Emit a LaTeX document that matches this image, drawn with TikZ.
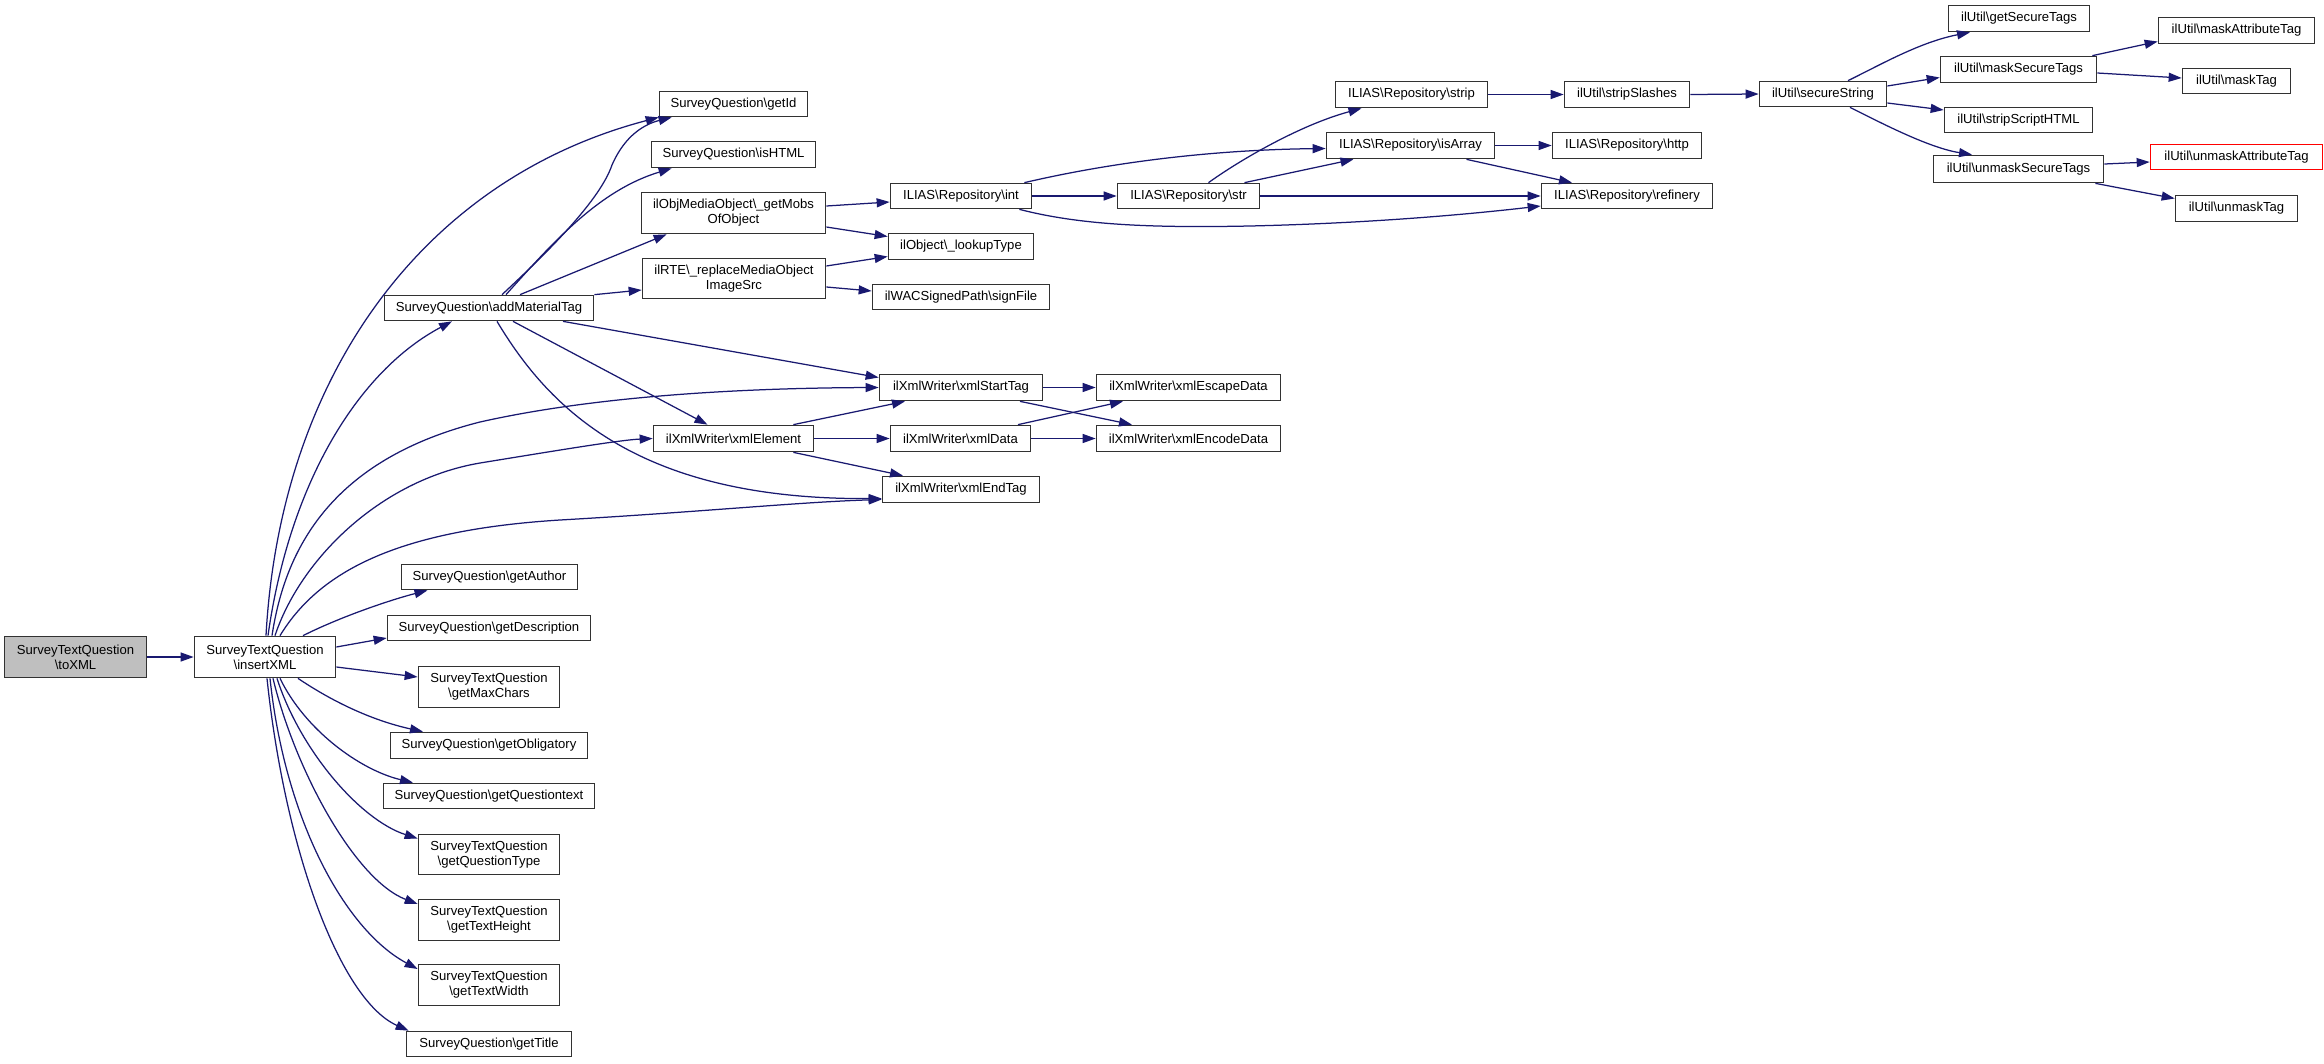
\documentclass[tikz,border=0pt]{standalone}
\usepackage{fontspec}
\setmainfont{Liberation Sans}
\usetikzlibrary{arrows.meta,calc}
\newcommand{\BSL}{\textbackslash{}}
\definecolor{edgeblue}{RGB}{25,25,112}
\definecolor{boxline}{RGB}{50,50,50}
\definecolor{boxfill}{RGB}{191,191,191}
\tikzset{
  fn/.style={draw=boxline, line width=1.7pt, fill=white, inner sep=0pt, align=center,
    font=\fontsize{13.1pt}{15pt}\selectfont},
  sz/.style 2 args={minimum width=#1pt, minimum height=#2pt},
  cur/.style={fn, fill=boxfill},
  missing/.style={draw=red},
  call/.style={draw=edgeblue, line width=1.25pt, -{Triangle[length=13pt,width=9pt]}}
}
\begin{document}
\begin{tikzpicture}[x=1pt,y=-1pt]
\path[use as bounding box] (0,0) rectangle (2324,1063);

% nodes
\node[cur, sz={142}{41}] (toXML) at (75.5,657) {SurveyTextQuestion\\\BSL toXML};
\node[fn, sz={141}{41}] (insertXML) at (265,657) {SurveyTextQuestion\\\BSL insertXML};
\node[fn, sz={148}{25}] (getId) at (733.5,104) {SurveyQuestion\BSL getId};
\node[fn, sz={164}{26}] (isHTML) at (733.5,154.5) {SurveyQuestion\BSL isHTML};
\node[fn, sz={184}{41}] (getMobs) at (733.5,213) {ilObjMediaObject\BSL\_getMobs\\OfObject};
\node[fn, sz={183}{40}] (replaceMO) at (734,278.5) {ilRTE\BSL\_replaceMediaObject\\ImageSrc};
\node[fn, sz={209}{25}] (addMaterialTag) at (489,308) {SurveyQuestion\BSL addMaterialTag};
\node[fn, sz={160}{26}] (xmlElement) at (733.5,438.5) {ilXmlWriter\BSL xmlElement};
\node[fn, sz={176}{25}] (getAuthor) at (489.5,577) {SurveyQuestion\BSL getAuthor};
\node[fn, sz={203}{25}] (getDescription) at (489,628) {SurveyQuestion\BSL getDescription};
\node[fn, sz={141}{41}] (getMaxChars) at (489,687) {SurveyTextQuestion\\\BSL getMaxChars};
\node[fn, sz={197}{26}] (getObligatory) at (489,745.5) {SurveyQuestion\BSL getObligatory};
\node[fn, sz={211}{25}] (getQuestiontext) at (489,796) {SurveyQuestion\BSL getQuestiontext};
\node[fn, sz={141}{40}] (getQuestionType) at (489,854.5) {SurveyTextQuestion\\\BSL getQuestionType};
\node[fn, sz={141}{41}] (getTextHeight) at (489,920) {SurveyTextQuestion\\\BSL getTextHeight};
\node[fn, sz={141}{41}] (getTextWidth) at (489,985) {SurveyTextQuestion\\\BSL getTextWidth};
\node[fn, sz={165}{25}] (getTitle) at (489,1044) {SurveyQuestion\BSL getTitle};

\node[fn, sz={141}{25}] (int) at (961,196) {ILIAS\BSL Repository\BSL int};
\node[fn, sz={142}{25}] (str) at (1188.5,196) {ILIAS\BSL Repository\BSL str};
\node[fn, sz={145}{26}] (lookupType) at (961,246.5) {ilObject\BSL\_lookupType};
\node[fn, sz={177}{25}] (signFile) at (961,297) {ilWACSignedPath\BSL signFile};
\node[fn, sz={163}{26}] (xmlStartTag) at (961,387.5) {ilXmlWriter\BSL xmlStartTag};
\node[fn, sz={184}{26}] (xmlEscapeData) at (1188.5,387.5) {ilXmlWriter\BSL xmlEscapeData};
\node[fn, sz={140}{26}] (xmlData) at (960.5,438.5) {ilXmlWriter\BSL xmlData};
\node[fn, sz={184}{26}] (xmlEncodeData) at (1188.5,438.5) {ilXmlWriter\BSL xmlEncodeData};
\node[fn, sz={157}{26}] (xmlEndTag) at (961,489.5) {ilXmlWriter\BSL xmlEndTag};

\node[fn, sz={152}{26}] (strip) at (1411.5,94.5) {ILIAS\BSL Repository\BSL strip};
\node[fn, sz={125}{26}] (stripSlashes) at (1627,94.5) {ilUtil\BSL stripSlashes};
\node[fn, sz={168}{26}] (isArray) at (1410.5,145.5) {ILIAS\BSL Repository\BSL isArray};
\node[fn, sz={149}{26}] (http) at (1627,145.5) {ILIAS\BSL Repository\BSL http};
\node[fn, sz={171}{25}] (refinery) at (1627,196) {ILIAS\BSL Repository\BSL refinery};

\node[fn, sz={127}{25}] (secureString) at (1823,94) {ilUtil\BSL secureString};
\node[fn, sz={141}{26}] (getSecureTags) at (2019,18.5) {ilUtil\BSL getSecureTags};
\node[fn, sz={156}{26}] (maskSecureTags) at (2018.5,69.5) {ilUtil\BSL maskSecureTags};
\node[fn, sz={148}{25}] (stripScriptHTML) at (2018.5,120) {ilUtil\BSL stripScriptHTML};
\node[fn, sz={170}{27}] (unmaskSecureTags) at (2018.5,169) {ilUtil\BSL unmaskSecureTags};
\node[fn, sz={156}{26}] (maskAttributeTag) at (2236.5,30.5) {ilUtil\BSL maskAttributeTag};
\node[fn, sz={108}{25}] (maskTag) at (2236.5,81) {ilUtil\BSL maskTag};
\node[fn, missing, sz={172}{25}] (unmaskAttributeTag) at (2236.5,157) {ilUtil\BSL unmaskAttributeTag};
\node[fn, sz={122}{26}] (unmaskTag) at (2236.5,208.5) {ilUtil\BSL unmaskTag};

% edges
\draw[call] (toXML.east) -- (insertXML.west);

\draw[call] ($(insertXML.north)+(1,0)$) .. controls (280,380) and (420,180) .. (getId.south west);
\draw[call] ($(insertXML.north)+(3,0)$) .. controls (290,480) and (360,370) .. ($(addMaterialTag.south)+(-37,0)$);
\draw[call] ($(insertXML.north)+(7,0)$) .. controls (285,550) and (330,460) .. (480,422) .. controls (600,395) and (750,388) .. (xmlStartTag.west);
\draw[call] ($(insertXML.north)+(10,0)$) .. controls (300,560) and (380,480) .. (480,463) .. controls (560,450) and (620,440) .. (xmlElement.west);
\draw[call] ($(insertXML.north)+(15,0)$) .. controls (320,570) and (400,530) .. (560,520) .. controls (700,512) and (800,502) .. ($(xmlEndTag.west)+(0,10)$);
\draw[call] ($(insertXML.north)+(38,0)$) .. controls (340,617) and (390,600) .. ($(getAuthor.south)+(-62,0)$);
\draw[call] ($(insertXML.east)+(0,-10)$) -- ($(getDescription.west)+(0,10)$);
\draw[call] ($(insertXML.east)+(0,10)$) -- ($(getMaxChars.west)+(0,-10)$);
\draw[call] ($(insertXML.south)+(33,0)$) .. controls (330,700) and (370,720) .. ($(getObligatory.north)+(-66,0)$);
\draw[call] ($(insertXML.south)+(15,0)$) .. controls (305,730) and (360,770) .. ($(getQuestiontext.north)+(-76,0)$);
\draw[call] ($(insertXML.south)+(12,0)$) .. controls (300,750) and (360,820) .. ($(getQuestionType.west)+(0,-16)$);
\draw[call] ($(insertXML.south)+(8,0)$) .. controls (295,770) and (355,880) .. ($(getTextHeight.west)+(0,-16)$);
\draw[call] ($(insertXML.south)+(5,0)$) .. controls (285,820) and (345,930) .. ($(getTextWidth.west)+(0,-16)$);
\draw[call] ($(insertXML.south)+(2,0)$) .. controls (285,850) and (340,1000) .. ($(getTitle.north west)+(3,0)$);

\draw[call] ($(addMaterialTag.north)+(13,0)$) .. controls (550,250) and (600,200) .. (612,165) .. controls (625,135) and (645,124) .. ($(getId.south west)+(13,0)$);
\draw[call] ($(addMaterialTag.north)+(17,0)$) .. controls (555,240) and (600,190) .. ($(isHTML.south west)+(21,0)$);
\draw[call] ($(addMaterialTag.north)+(31,0)$) -- ($(getMobs.south west)+(26,0)$);
\draw[call] (addMaterialTag.north east) -- ($(replaceMO.west)+(0,11.5)$);
\draw[call] ($(addMaterialTag.south)+(74,0)$) -- ($(xmlStartTag.west)+(0,-10)$);
\draw[call] ($(addMaterialTag.south)+(24,0)$) -- ($(xmlElement.north)+(-26,0)$);
\draw[call] ($(addMaterialTag.south)+(8,0)$) .. controls (550,410) and (640,500) .. ($(xmlEndTag.west)+(0,9)$);

\draw[call] ($(getMobs.east)+(0,-7)$) -- ($(int.west)+(0,6)$);
\draw[call] ($(getMobs.east)+(0,14)$) -- ($(lookupType.west)+(0,-10)$);
\draw[call] ($(replaceMO.east)+(0,-12.5)$) -- ($(lookupType.west)+(0,10)$);
\draw[call] ($(replaceMO.east)+(0,8.5)$) -- ($(signFile.west)+(0,-6)$);

\draw[call] (int.east) -- (str.west);
\draw[call] ($(int.north east)+(-8,0)$) .. controls (1100,165) and (1200,150) .. ($(isArray.west)+(0,3)$);
\draw[call] ($(int.south east)+(-13,0)$) .. controls (1080,225) and (1150,228) .. (1250,226) .. controls (1380,223) and (1480,213) .. ($(refinery.west)+(0,10)$);
\draw[call] ($(str.north)+(20,0)$) .. controls (1240,160) and (1300,125) .. ($(strip.south)+(-50,0)$);
\draw[call] ($(str.north)+(56,0)$) -- ($(isArray.south)+(-57,0)$);
\draw[call] (str.east) -- (refinery.west);
\draw[call] (strip.east) -- (stripSlashes.west);
\draw[call] (isArray.east) -- (http.west);
\draw[call] ($(isArray.south)+(56,0)$) -- ($(refinery.north)+(-55,0)$);
\draw[call] (stripSlashes.east) -- (secureString.west);

\draw[call] ($(secureString.north)+(25,0)$) .. controls (1880,65) and (1920,42) .. ($(getSecureTags.south)+(-49,0)$);
\draw[call] ($(secureString.east)+(0,-8)$) -- ($(maskSecureTags.west)+(0,8)$);
\draw[call] ($(secureString.east)+(0,9)$) -- ($(stripScriptHTML.west)+(0,-10)$);
\draw[call] ($(secureString.south)+(27,0)$) .. controls (1885,125) and (1930,148) .. ($(unmaskSecureTags.north)+(-46.5,0)$);
\draw[call] ($(maskSecureTags.north east)+(-5,0)$) -- ($(maskAttributeTag.west)+(0,11)$);
\draw[call] ($(maskSecureTags.east)+(0,3.5)$) -- ($(maskTag.west)+(0,-3)$);
\draw[call] ($(unmaskSecureTags.east)+(0,-5)$) -- ($(unmaskAttributeTag.west)+(0,5)$);
\draw[call] ($(unmaskSecureTags.south east)+(-9,0)$) -- ($(unmaskTag.west)+(0,-10)$);

\draw[call] ($(xmlElement.north east)+(-21,0)$) -- ($(xmlStartTag.south)+(-56,0)$);
\draw[call] (xmlElement.east) -- (xmlData.west);
\draw[call] ($(xmlElement.south east)+(-21,0)$) -- ($(xmlEndTag.north)+(-58,0)$);
\draw[call] (xmlStartTag.east) -- (xmlEscapeData.west);
\draw[call] ($(xmlStartTag.south)+(59,0)$) -- ($(xmlEncodeData.north)+(-56.5,0)$);
\draw[call] ($(xmlData.north)+(57.5,0)$) -- ($(xmlEscapeData.south)+(-65.5,0)$);
\draw[call] (xmlData.east) -- (xmlEncodeData.west);
\end{tikzpicture}
\end{document}
